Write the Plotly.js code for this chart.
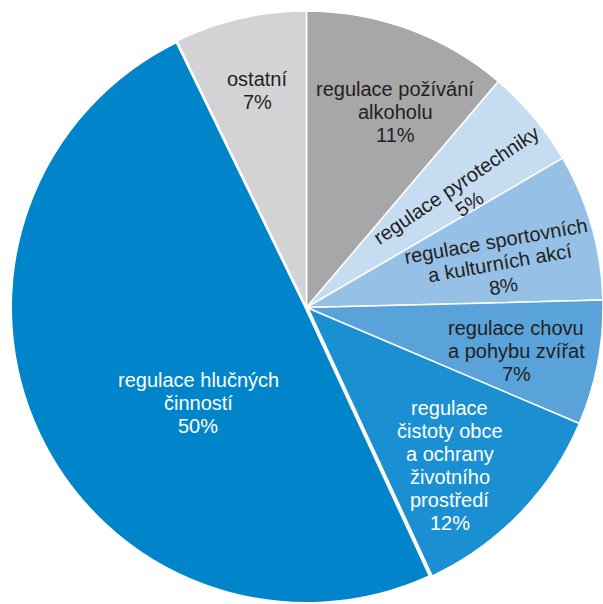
<!DOCTYPE html>
<html>
<head>
<meta charset="utf-8">
<script src="https://cdn.plot.ly/plotly-3.0.1.min.js"></script>
<style>html,body{margin:0;padding:0;background:#fff;}#chart{width:603px;height:604px;}</style>
</head>
<body>
<div id="chart"></div>
<script>
// ---- data ----
const categories = [
  "regulace požívání|alkoholu",
  "regulace pyrotechniky",
  "regulace sportovních|a kulturních akcí",
  "regulace chovu|a pohybu zvířat",
  "regulace|čistoty obce|a ochrany|životního|prostředí",
  "regulace hlučných|činností",
  "ostatní"
];
const values = [11.2, 5.4, 8.0, 6.8, 11.7, 49.7, 7.2];

// ---- styles ----
const sliceColors = ["#a7a7a9", "#c6dcf0", "#96c0e6", "#5aa3da", "#1a90d3", "#0085cb", "#d3d3d5"];
const textColors = ["#231f20", "#231f20", "#231f20", "#231f20", "#ffffff", "#ffffff", "#231f20"];
const lineWidths = [1.5, 1.5, 1.5, 1.5, 1.5, 4, 1.5];
const labelRadius = [0.723, 0.65, 0.668, 0.723, 0.72, 0.487, 0.749];   // fraction of radius
const labelAngleNudge = [4.3, 4.1, 3.0, 0.8, 3.8, -16, 0.1];            // degrees from slice middle
const labelTextAngle = [0, -34, -10, 0, 0, 0, 0];
const fontSize = 20, lineGap = 23;

const W = 603, H = 604;
const domX = [10 / W, 1], domY = [0, 593 / H];
const pieCx = 10 + 296.5, pieCy = 11 + 296.5, pieR = 296.5;

const total = values.reduce((a, b) => a + b, 0);

const trace = {
  type: "pie",
  labels: categories.map(c => c.replace(/\|/g, " ")),
  values: values,
  sort: false,
  direction: "clockwise",
  rotation: 0,
  marker: { colors: sliceColors, line: { color: "#ffffff", width: lineWidths } },
  textinfo: "none",
  hoverinfo: "label+percent",
  showlegend: false,
  domain: { x: domX, y: domY }
};

const annotations = [];
let cum = 0;
values.forEach((v, i) => {
  const mid = (cum + v / 2) / total * 360;
  cum += v;
  const ang = (mid + labelAngleNudge[i]) * Math.PI / 180;
  const r = labelRadius[i] * pieR;
  const bx = pieCx + r * Math.sin(ang);
  const by = pieCy - r * Math.cos(ang);
  const lines = categories[i].split("|").concat([Math.round(v / total * 100) + "%"]);
  const th = labelTextAngle[i] * Math.PI / 180;
  const dx = -Math.sin(th), dy = Math.cos(th);
  lines.forEach((t, k) => {
    const off = (k - (lines.length - 1) / 2) * lineGap;
    const px = bx + off * dx, py = by + off * dy;
    annotations.push({
      xref: "paper", yref: "paper",
      x: px / W, y: 1 - py / H,
      xanchor: "center", yanchor: "middle",
      text: t, showarrow: false,
      textangle: labelTextAngle[i],
      font: { family: "Liberation Sans, Arial, sans-serif", size: fontSize, color: textColors[i] }
    });
  });
});

const layout = {
  width: W, height: H,
  margin: { l: 0, r: 0, t: 0, b: 0 },
  paper_bgcolor: "#ffffff",
  showlegend: false,
  annotations: annotations
};

Plotly.newPlot("chart", [trace], layout, { displayModeBar: false, staticPlot: true });
</script>
</body>
</html>
